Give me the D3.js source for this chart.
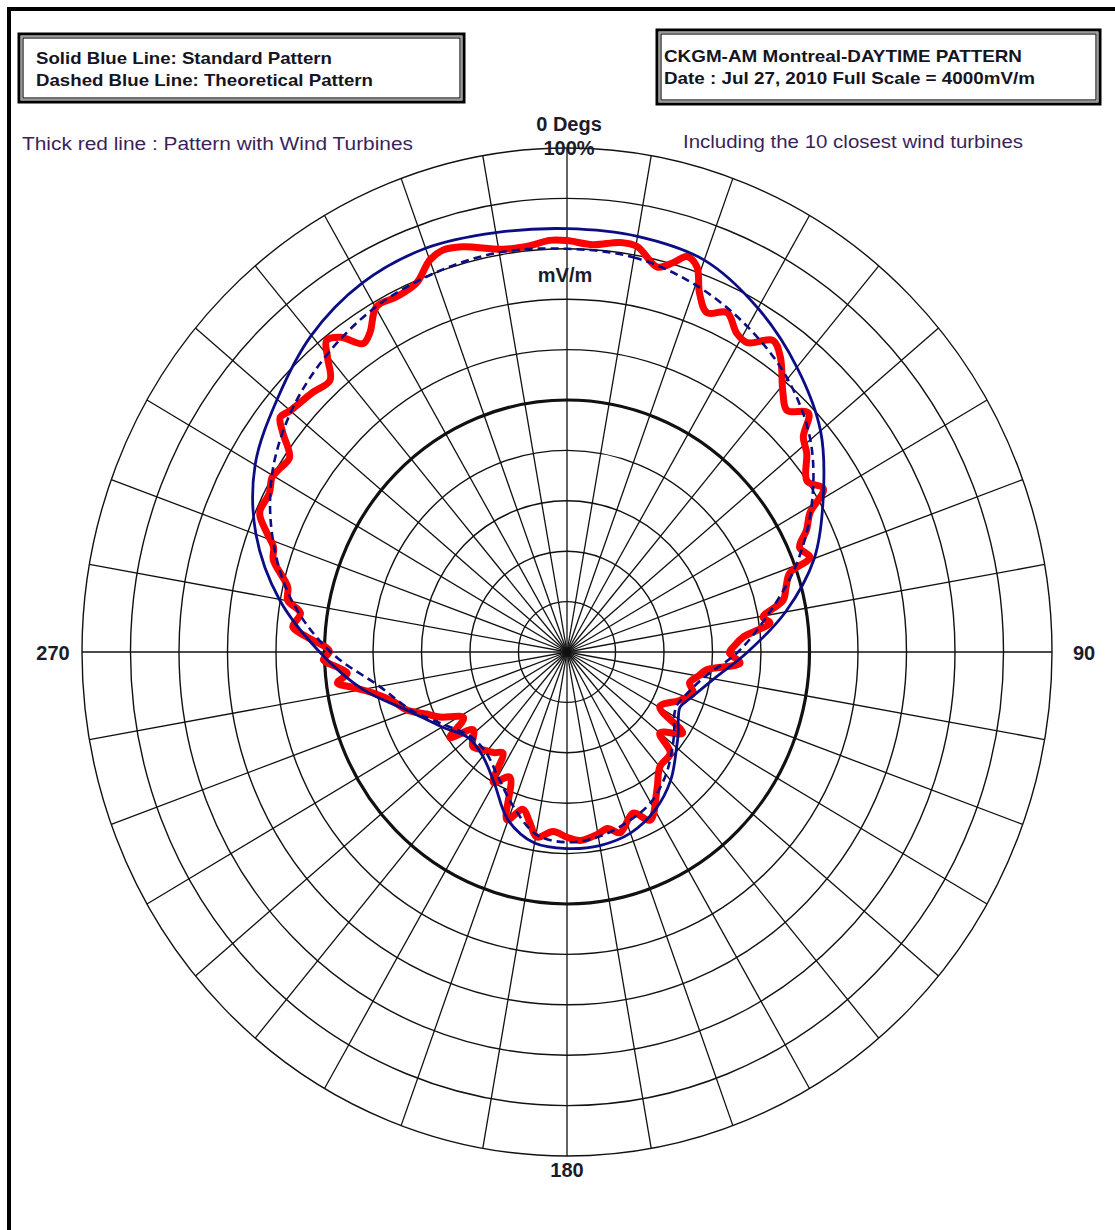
<!DOCTYPE html>
<html>
<head>
<meta charset="utf-8">
<script src="https://cdn.jsdelivr.net/npm/d3@7"></script>
<style>
  html, body { margin: 0; padding: 0; background: #fff; }
  svg { display: block; }
</style>
</head>
<body>
<script>
// Polar field-strength plot, values in mV/m, full scale 4000 mV/m
const fullScale = 4000;
const ringValues = [400, 800, 1200, 1600, 2000, 2400, 2800, 3200, 3600, 4000];
const boldRing = 2000;
const spokeAngles = d3.range(0, 360, 10);
const axisLabels = [
  { angle: 90, text: "90" },
  { angle: 180, text: "180" },
  { angle: 270, text: "270" }
];

// Standard pattern (solid blue)
const stdAngles = [0, 10, 20, 30, 40, 50, 60, 70, 80, 90, 100, 110, 115, 120, 125, 130, 140, 150, 160, 170,
  180, 190, 200, 210, 220, 230, 240, 250, 260, 270, 280, 290, 300, 310, 320, 330, 340, 350];
const stdValues = [3360, 3350, 3310, 3150, 2950, 2730, 2440, 2170, 1830, 1490, 1230, 1080, 1030, 1060, 1120, 1180, 1330, 1450, 1530, 1560,
  1560, 1540, 1420, 1200, 1080, 1060, 1190, 1380, 1710, 2040, 2410, 2730, 2970, 3120, 3280, 3380, 3410, 3380];

// Theoretical pattern (dashed blue)
const theoAngles = [0, 10, 20, 30, 40, 50, 60, 70, 80, 90, 100, 110, 115, 120, 125, 130, 140, 150, 160, 170,
  180, 190, 200, 210, 220, 230, 240, 250, 260, 270, 280, 290, 300, 310, 320, 330, 340, 350];
const theoValues = [3200, 3180, 3100, 2980, 2830, 2620, 2330, 2010, 1680, 1410, 1150, 1030, 1000, 1020, 1080, 1140, 1270, 1380, 1440, 1490,
  1510, 1470, 1300, 1140, 1040, 1040, 1160, 1360, 1570, 1950, 2300, 2580, 2810, 2970, 3080, 3160, 3200, 3220];

// Pattern with wind turbines (thick red)
const turbAngles = [0, 3.8, 7.7, 10.2, 13.7, 15.8, 17.5, 19.3, 21, 23.2, 26.1, 29, 31.2, 34.5, 36.9, 40.9, 43.4, 46.4, 48.8, 51.4,
  55.6, 58.5, 61.1, 63.9, 66.6, 69.4, 71.2, 74, 77, 80.3, 82.1, 85.3, 88, 90.3, 93.5, 97, 100, 103.6, 107.3, 112.2,
  119.6, 124, 130, 133.3, 139.9, 145.8, 152.8, 156.9, 163, 166.5, 170.3, 175.9, 180, 184.6, 189.6, 193, 196.2, 200.4, 205.4, 210.4,
  213.4, 217, 221.7, 226, 231.4, 234.9, 238.5, 243.8, 247, 250.8, 254.5, 258.5, 261, 262.6, 264.7, 266.4, 268.2, 270.2, 273.2, 275,
  278, 280.1, 282.6, 286.8, 289, 290.9, 293, 294, 297.2, 299.7, 301.6, 304, 306.6, 308.2, 310, 314.5, 317.8, 319.8, 321.3, 323.2,
  325.5, 327.3, 330.2, 333.5, 337, 340, 342.2, 345, 350.6, 354.6, 357.5];
const turbValues = [3265, 3240, 3280, 3270, 3145, 3210, 3290, 3240, 3050, 2930, 3000, 2890, 2870, 3000, 2930, 2720, 2640, 2750, 2590, 2530,
  2400, 2480, 2290, 2200, 2090, 2140, 1940, 1880, 1830, 1640, 1690, 1460, 1380, 1340, 1430, 1160, 1100, 1040, 1090, 1010,
  880, 1150, 1000, 1170, 1190, 1320, 1500, 1390, 1500, 1440, 1470, 1500, 1470, 1430, 1490, 1380, 1300, 1420, 1100, 1200,
  960, 1000, 1040, 1080, 990, 1180, 1000, 1170, 1260, 1400, 1480, 1630, 1790, 1910, 1820, 1900, 2010, 1960, 2150, 2270,
  2220, 2340, 2360, 2530, 2560, 2650, 2750, 2770, 2760, 2800, 2780, 2760, 2920, 3010, 2980, 2940, 2910, 3060, 3170, 3120,
  2970, 3010, 3160, 3150, 3180, 3310, 3350, 3330, 3240, 3240, 3270];

const W = 1115, H = 1230;
const cx = 567, cy = 652;
const rX = d3.scaleLinear().domain([0, fullScale]).range([0, 485]);
const rY = d3.scaleLinear().domain([0, fullScale]).range([0, 504]);
const FONT = "'Liberation Sans', Arial, sans-serif";

const svg = d3.select("body").append("svg").attr("width", W).attr("height", H);

// outer frame
svg.append("rect").attr("x", 9).attr("y", 9).attr("width", 1300).attr("height", 1400)
  .attr("fill", "none").attr("stroke", "#000").attr("stroke-width", 4);

function pt(angle, v) {
  const a = angle * Math.PI / 180;
  return [cx + rX(v) * Math.sin(a), cy - rY(v) * Math.cos(a)];
}

const grid = svg.append("g");
grid.selectAll("line.spoke").data(spokeAngles).join("line")
  .attr("class", "spoke")
  .attr("x1", cx).attr("y1", cy)
  .attr("x2", d => pt(d, fullScale)[0]).attr("y2", d => pt(d, fullScale)[1])
  .attr("stroke", "#111").attr("stroke-width", 1.3);
grid.selectAll("ellipse.ring").data(ringValues).join("ellipse")
  .attr("class", "ring")
  .attr("cx", cx).attr("cy", cy)
  .attr("rx", d => rX(d)).attr("ry", d => rY(d))
  .attr("fill", "none").attr("stroke", "#111")
  .attr("stroke-width", d => d === boldRing ? 3.2 : 1.4);

const line = d3.line().curve(d3.curveCatmullRomClosed.alpha(0.5));
const toPts = (angles, values) => angles.map((a, i) => pt(a, values[i]));

svg.append("path").attr("d", line(toPts(turbAngles, turbValues)))
  .attr("fill", "none").attr("stroke", "#ff0000").attr("stroke-width", 7)
  .attr("stroke-linejoin", "round");
svg.append("path").attr("d", line(toPts(stdAngles, stdValues)))
  .attr("fill", "none").attr("stroke", "#0c0c84").attr("stroke-width", 2.8);
svg.append("path").attr("d", line(toPts(theoAngles, theoValues)))
  .attr("fill", "none").attr("stroke", "#0c0c84").attr("stroke-width", 2.6)
  .attr("stroke-dasharray", "8,5");

// text helper: left-anchored text fitted to a given width
function label(g, x, y, str, width) {
  const t = g.append("text").attr("x", x).attr("y", y).text(str);
  if (width) t.attr("textLength", width).attr("lengthAdjust", "spacingAndGlyphs");
  return t;
}

// axis labels
const lab = svg.append("g").attr("font-family", FONT)
  .attr("font-weight", "bold").attr("font-size", 20).attr("fill", "#1b1b2b")
  .attr("text-anchor", "middle");
lab.append("text").attr("x", 569).attr("y", 131).text("0 Degs");
lab.append("text").attr("x", 569).attr("y", 155).text("100%");
lab.append("text").attr("x", 565).attr("y", 282).text("mV/m");
axisLabels.forEach(d => {
  const p = pt(d.angle, fullScale);
  const t = lab.append("text").text(d.text);
  if (d.angle === 90) t.attr("x", p[0] + 32).attr("y", p[1] + 8);
  else if (d.angle === 270) t.attr("x", p[0] - 29).attr("y", p[1] + 8);
  else t.attr("x", p[0]).attr("y", p[1] + 21);
});

// legend boxes
function box(x, y, w, h) {
  const g = svg.append("g");
  g.append("rect").attr("x", x).attr("y", y).attr("width", w).attr("height", h)
    .attr("fill", "#fff").attr("stroke", "#000").attr("stroke-width", 3);
  g.append("rect").attr("x", x + 2.5).attr("y", y + 2.5).attr("width", w - 5).attr("height", h - 5)
    .attr("fill", "none").attr("stroke", "#999").attr("stroke-width", 1);
  g.append("rect").attr("x", x + 4).attr("y", y + 4).attr("width", w - 8).attr("height", h - 8)
    .attr("fill", "none").attr("stroke", "#111").attr("stroke-width", 1.2);
  return g;
}
const b1 = box(19, 34, 445, 68);
const t1 = b1.append("g").attr("font-family", FONT)
  .attr("font-weight", "bold").attr("font-size", 17).attr("fill", "#15151f");
label(t1, 36, 64, "Solid Blue Line: Standard Pattern", 296);
label(t1, 36, 86, "Dashed Blue Line: Theoretical Pattern", 337);

const b2 = box(657, 30, 443, 74);
const t2 = b2.append("g").attr("font-family", FONT)
  .attr("font-weight", "bold").attr("font-size", 17).attr("fill", "#15151f");
label(t2, 664, 62, "CKGM-AM Montreal-DAYTIME PATTERN", 358);
label(t2, 664, 84, "Date : Jul 27, 2010  Full Scale = 4000mV/m", 371);

const notes = svg.append("g").attr("font-family", FONT)
  .attr("font-size", 18).attr("fill", "#3c1f5c");
label(notes, 22, 150, "Thick red line : Pattern with Wind Turbines", 391);
label(notes, 683, 148, "Including the 10 closest wind turbines", 340);
</script>
</body>
</html>
